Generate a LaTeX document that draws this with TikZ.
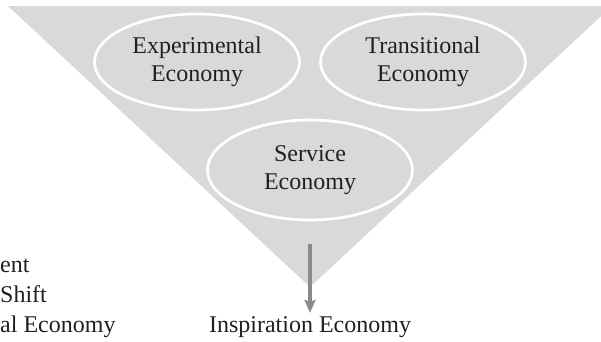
\documentclass[tikz,border=0pt]{standalone}
\usepackage{fontspec}
\setmainfont{Liberation Serif}
\usetikzlibrary{shapes.geometric,arrows.meta}
\definecolor{funnelgray}{HTML}{D9D9D9}
\definecolor{arrowgray}{HTML}{8A8A8A}
\definecolor{inkblack}{HTML}{231F20}

\begin{document}
\begin{tikzpicture}[x=1pt,y=-1pt,>={Stealth[length=13pt,width=11pt,inset=2pt]},
  eco node/.style={ellipse,draw=white,line width=2.7pt,fill=funnelgray,inner sep=0pt,
    minimum width=205pt,minimum height=96pt,align=center,text=inkblack,
    font=\fontsize{24}{28.5}\selectfont},
  word node/.style={text=inkblack,inner sep=0pt,font=\fontsize{24}{28.5}\selectfont}]
  \useasboundingbox (0,0) rectangle (601,341);
  \fill[funnelgray] (8,6) -- (612,6) -- (310,287) -- cycle;

  \node[eco node] (1) at (197,62) {Experimental\\Economy};
  \node[eco node] (2) at (423,62) {Transitional\\Economy};
  \node[eco node,minimum height=100pt] (3) at (310,170) {Service\\Economy};
  \node[word node,anchor=base] (4) at (310,332) {Inspiration Economy};

  \node[word node,anchor=base west] (5) at (0,272) {ent};
  \node[word node,anchor=base west] (6) at (0,302) {Shift};
  \node[word node,anchor=base west] (7) at (0,332) {al Economy};

  \draw[->,arrowgray,line width=4pt,shorten <=23pt,shorten >=3pt] (3) -- (4);

\end{tikzpicture}
\end{document}
